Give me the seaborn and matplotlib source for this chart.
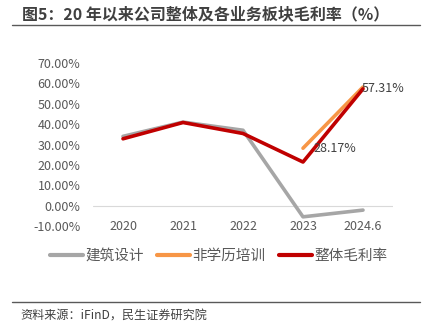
import numpy as np
import pandas as pd
import matplotlib
matplotlib.use("Agg")
import matplotlib.pyplot as plt
import seaborn as sns
from matplotlib.lines import Line2D

years = ["2020", "2021", "2022", "2023", "2024.6"]
arch = [34.0, 41.0, 37.0, -5.5, -2.2]
train = [np.nan, np.nan, np.nan, 28.17, 58.2]
total = [32.8, 40.8, 35.4, 21.4, 57.31]
series_names = ["建筑设计", "非学历培训", "整体毛利率"]
colors = ["#A6A6A6", "#F79646", "#C00000"]
yticks = [-10, 0, 10, 20, 30, 40, 50, 60, 70]

sns.set_theme(style="white")
plt.rcParams["font.family"] = ["Noto Sans CJK SC", "DejaVu Sans"]

rows = []
for name, vals in zip(series_names, [arch, train, total]):
    for i, v in enumerate(vals):
        rows.append({"x": i, "value": v, "series": name})
df = pd.DataFrame(rows)

fig = plt.figure(figsize=(4.33, 3.31), dpi=100)
ax = fig.add_axes([93/433, 1-226/331, 300/433, 163/331])
sns.lineplot(data=df, x="x", y="value", hue="series", hue_order=series_names,
             palette=colors, linewidth=2.6, ax=ax, legend=False, sort=False)

ax.set_xlim(-0.5, 4.5)
ax.set_ylim(-10, 70)
ax.set_yticks(yticks)
ax.set_yticklabels([f"{t:.2f}%" for t in yticks], color="#595959", fontsize=9)
ax.set_xticks(range(len(years)))
ax.set_xticklabels(years, color="#595959", fontsize=9)
ax.tick_params(axis="y", length=0, pad=9)
ax.tick_params(axis="x", length=0, pad=-4)
for s in ax.spines.values():
    s.set_visible(False)
ax.axhline(0, color="#D9D9D9", linewidth=0.8, zorder=0)
ax.set_xlabel("")
ax.set_ylabel("")

ax.text(3.18, train[3], f"{train[3]:.2f}%", color="#404040", fontsize=9, va="center", ha="left")
ax.text(3.98, total[4], f"{total[4]:.2f}%", color="#404040", fontsize=9, va="center", ha="left")

handles = [Line2D([0], [0], color=c, linewidth=3) for c in colors]
leg = fig.legend(handles, series_names, loc="center", bbox_to_anchor=(0.505, 1-256/331),
                 ncol=3, frameon=False, fontsize=10.5, handlelength=2.3, columnspacing=0.9,
                 handletextpad=0.15)
for t in leg.get_texts():
    t.set_color("#595959")

fig.text(22/433, 1-14/331, "图5：20 年以来公司整体及各业务板块毛利率（%）", fontsize=11.5,
         fontweight="bold", color="#404040", va="center", ha="left")
fig.add_artist(Line2D([12/433, 420/433], [1-25/331, 1-25/331], color="#595959", linewidth=1.0))
fig.add_artist(Line2D([12/433, 420/433], [1-302/331, 1-302/331], color="#595959", linewidth=1.0))
fig.text(20/433, 1-316/331, "资料来源：iFinD，民生证券研究院", fontsize=8.7, color="#404040",
         va="center", ha="left")

fig.savefig("out.png", dpi=100)
